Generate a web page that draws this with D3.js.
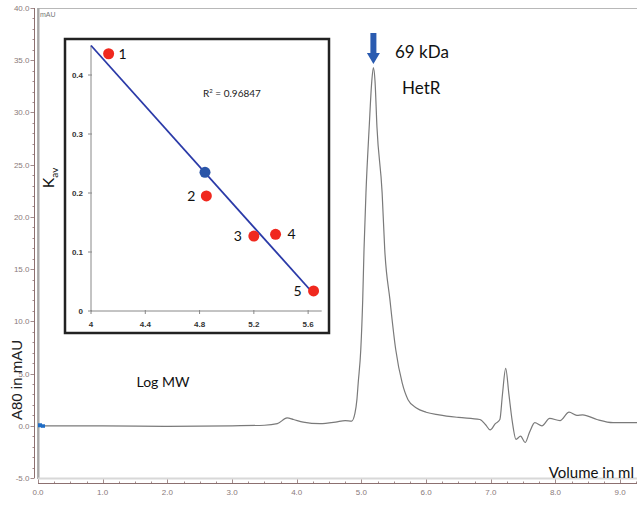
<!DOCTYPE html>
<html>
<head>
  <meta charset="utf-8">
  <script src="https://d3js.org/d3.v7.min.js"></script>
  <style>
    body { margin: 0; background: #fff; }
    svg { display: block; }
  </style>
</head>
<body>
<script>
  "use strict";

  /*
    Chromatogram trace (volume in ml, absorbance in mAU)
  */
  var traceVol = [0.0, 0.5, 1.0, 2.0, 3.0, 3.5, 3.7, 3.85, 3.95, 4.1, 4.36, 4.6, 4.75, 4.85,
    4.9, 4.93, 4.95, 4.99, 5.02, 5.04, 5.07, 5.12, 5.16, 5.185, 5.21, 5.24, 5.32, 5.36,
    5.44, 5.53, 5.63, 5.72, 5.85, 6.0, 6.2, 6.5, 6.83, 6.92, 6.99, 7.07, 7.14, 7.18, 7.23,
    7.28, 7.33, 7.39, 7.46, 7.53, 7.6, 7.68, 7.79, 7.91, 8.07, 8.21, 8.33, 8.42, 8.64, 8.89, 9.3];
  var traceAbs = [0.0, 0.0, 0.0, -0.05, 0.0, 0.05, 0.2, 0.75, 0.6, 0.35, 0.2, 0.35, 0.5, 0.45,
    1.2, 2.5, 4.1, 7.3, 12.1, 16.9, 22.3, 28.6, 33.0, 34.3, 33.0, 28.6, 22.3, 16.9,
    12.1, 7.3, 4.1, 2.5, 1.7, 1.3, 1.05, 0.8, 0.6, 0.1, -0.4, 0.2, 0.6, 3.0, 5.5,
    3.0, 0.5, -1.3, -1.0, -1.6, -0.6, 0.3, 0.0, 0.7, 0.5, 1.3, 1.0, 1.05, 0.6, 0.3, 0.3];
  var peakVol = 5.185;

  var yTicks = [-5, 0, 5, 10, 15, 20, 25, 30, 35, 40];
  var xTicks = [0, 1, 2, 3, 4, 5, 6, 7, 8, 9];

  /*
    Calibration inset (log MW vs Kav)
  */
  var stdLogMW = [4.13, 4.85, 5.20, 5.36, 5.64];
  var stdKav = [0.436, 0.195, 0.127, 0.130, 0.034];
  var stdNames = ["1", "2", "3", "4", "5"];
  var hetrLogMW = [4.84];
  var hetrKav = [0.235];
  var fitLogMW = [4.0, 5.645];
  var fitKav = [0.45, 0.028];
  var insetXTicks = [4, 4.4, 4.8, 5.2, 5.6];
  var insetYTicks = [0, 0.1, 0.2, 0.3, 0.4];

  var W = 637, H = 513;
  var svg = d3.select("body").append("svg").attr("width", W).attr("height", H);

  var x = d3.scaleLinear().domain([0, 9.26]).range([38, 637]);
  var y = d3.scaleLinear().domain([-5, 40]).range([478, 8]);

  var axisCol = "#8c7070";
  var font = "Lato, 'Open Sans', sans-serif";

  // plot frame
  svg.append("rect").attr("x", 37.5).attr("y", 8.5).attr("width", 610).attr("height", 470)
    .attr("fill", "none").attr("stroke", "#b8b8b8").attr("stroke-width", 1);
  svg.append("line").attr("x1", 38.5).attr("x2", 38.5).attr("y1", 8).attr("y2", 479)
    .attr("stroke", "#a8a8a8").attr("stroke-width", 2);
  svg.append("line").attr("x1", 38).attr("x2", 637).attr("y1", 478.5).attr("y2", 478.5)
    .attr("stroke", "#d8d8d8").attr("stroke-width", 2);

  // y axis
  var yAxisG = svg.append("g").attr("transform", "translate(34.5,0)");
  yAxisG.append("line").attr("y1", y(40)).attr("y2", y(-5)).attr("stroke", axisCol);
  yAxisG.selectAll(".minor").data(d3.range(-5, 40.5, 1)).enter().append("line")
    .attr("x1", 0).attr("x2", function(d) { return d % 5 === 0 ? -4 : -2; })
    .attr("y1", function(d) { return Math.round(y(d)) + 0.5; })
    .attr("y2", function(d) { return Math.round(y(d)) + 0.5; })
    .attr("stroke", axisCol).attr("stroke-width", 0.8);
  yAxisG.selectAll("text").data(yTicks).enter().append("text")
    .attr("x", -5).attr("y", function(d) { return y(d) + 3; })
    .attr("text-anchor", "end").attr("font-size", 8).attr("fill", "#8a7a7a")
    .attr("font-family", "'Liberation Sans', Arial, sans-serif")
    .text(function(d) { return d.toFixed(1); });

  // x axis
  var xAxisG = svg.append("g").attr("transform", "translate(0,483.5)");
  xAxisG.append("line").attr("x1", x(0)).attr("x2", 637).attr("stroke", axisCol);
  xAxisG.selectAll(".minor").data(d3.range(0, 9.26, 0.25)).enter().append("line")
    .attr("x1", function(d) { return Math.round(x(d)) + 0.5; })
    .attr("x2", function(d) { return Math.round(x(d)) + 0.5; })
    .attr("y1", 0).attr("y2", function(d) { return Math.abs(d - Math.round(d)) < 1e-6 ? -4 : -2; })
    .attr("stroke", axisCol).attr("stroke-width", 0.8);
  xAxisG.selectAll("text").data(xTicks).enter().append("text")
    .attr("x", function(d) { return x(d); }).attr("y", 11)
    .attr("text-anchor", "middle").attr("font-size", 8).attr("fill", "#8a7a7a")
    .attr("font-family", "'Liberation Sans', Arial, sans-serif")
    .text(function(d) { return d.toFixed(1); });

  svg.append("text").attr("x", 40).attr("y", 17).attr("font-size", 7).attr("fill", "#777")
    .attr("font-family", "'Liberation Sans', Arial, sans-serif").text("mAU");

  // trace
  var trace = traceVol.map(function(v, i) { return [v, traceAbs[i]]; });
  svg.append("path").datum(trace)
    .attr("fill", "none").attr("stroke", "#7a7a7a").attr("stroke-width", 1.2)
    .attr("d", d3.line().x(function(d) { return x(d[0]); }).y(function(d) { return y(d[1]); })
      .curve(d3.curveMonotoneX));

  // blue start marker
  svg.append("rect").attr("x", x(0)).attr("y", y(0) - 2.5).attr("width", 4).attr("height", 4).attr("fill", "#1f6cc4");
  svg.append("rect").attr("x", x(0) + 3).attr("y", y(0) - 1.5).attr("width", 4).attr("height", 3.5).attr("fill", "#1f6cc4");

  // arrow over the peak
  var ax = x(peakVol);
  svg.append("path")
    .attr("d", "M" + (ax - 3) + ",33 L" + (ax + 3) + ",33 L" + (ax + 3) + ",53 L" + (ax + 6.5) + ",53 L" + ax + ",64 L" + (ax - 6.5) + ",53 L" + (ax - 3) + ",53 Z")
    .attr("fill", "#2a5bb0");

  svg.append("text").attr("x", 395).attr("y", 58).attr("font-size", 17).attr("fill", "#111")
    .attr("font-family", font).text("69 kDa");
  svg.append("text").attr("x", 402).attr("y", 94).attr("font-size", 17).attr("fill", "#111")
    .attr("font-family", font).text("HetR");

  svg.append("text").attr("x", 634).attr("y", 478).attr("text-anchor", "end").attr("font-size", 15)
    .attr("fill", "#111").attr("font-family", font).text("Volume in ml");

  svg.append("text").attr("transform", "translate(22,380) rotate(-90)")
    .attr("text-anchor", "middle").attr("font-size", 15).attr("fill", "#222")
    .attr("font-family", "'Liberation Sans', Arial, sans-serif").text("A80 in mAU");

  /*
    Inset calibration chart
  */
  svg.append("rect").attr("x", 65).attr("y", 39).attr("width", 264).attr("height", 294)
    .attr("fill", "#fff").attr("stroke", "#222").attr("stroke-width", 2.5);

  var ix = d3.scaleLinear().domain([4, 5.7]).range([91, 321.7]);
  var iy = d3.scaleLinear().domain([0, 0.45]).range([311, 45.5]);
  var iCol = "#888";

  svg.append("line").attr("x1", ix(4)).attr("x2", ix(4)).attr("y1", iy(0)).attr("y2", iy(0.45))
    .attr("stroke", iCol);
  svg.append("line").attr("x1", ix(4)).attr("x2", ix(5.7)).attr("y1", iy(0)).attr("y2", iy(0))
    .attr("stroke", iCol);
  svg.selectAll(".iyt").data(insetYTicks).enter().append("line")
    .attr("x1", ix(4) - 3).attr("x2", ix(4) + 1)
    .attr("y1", function(d) { return iy(d); }).attr("y2", function(d) { return iy(d); })
    .attr("stroke", iCol);
  svg.selectAll(".iyl").data(insetYTicks).enter().append("text")
    .attr("x", 83).attr("y", function(d) { return iy(d) + 3; })
    .attr("text-anchor", "end").attr("font-size", 8).attr("font-weight", "bold").attr("fill", "#333")
    .attr("font-family", "'Liberation Sans', Arial, sans-serif")
    .text(function(d) { return d === 0 ? "0" : d.toFixed(1); });
  svg.selectAll(".ixt").data(insetXTicks).enter().append("line")
    .attr("x1", function(d) { return ix(d); }).attr("x2", function(d) { return ix(d); })
    .attr("y1", iy(0) - 1).attr("y2", iy(0) + 3)
    .attr("stroke", iCol);
  svg.selectAll(".ixl").data(insetXTicks).enter().append("text")
    .attr("x", function(d) { return ix(d); }).attr("y", iy(0) + 16)
    .attr("text-anchor", "middle").attr("font-size", 8).attr("font-weight", "bold").attr("fill", "#333")
    .attr("font-family", "'Liberation Sans', Arial, sans-serif")
    .text(function(d) { return String(d); });

  // fit line
  svg.append("line")
    .attr("x1", ix(fitLogMW[0])).attr("y1", iy(fitKav[0]))
    .attr("x2", ix(fitLogMW[1])).attr("y2", iy(fitKav[1]))
    .attr("stroke", "#2b3aa8").attr("stroke-width", 1.8);

  // standards
  svg.selectAll(".std").data(stdLogMW).enter().append("circle")
    .attr("cx", function(d) { return ix(d); })
    .attr("cy", function(d, i) { return iy(stdKav[i]); })
    .attr("r", 5.5).attr("fill", "#f0281e");
  svg.selectAll(".hetr").data(hetrLogMW).enter().append("circle")
    .attr("cx", function(d) { return ix(d); })
    .attr("cy", function(d, i) { return iy(hetrKav[i]); })
    .attr("r", 5.5).attr("fill", "#2a55a8");

  var labelDx = [14, -15, -16, 16, -16];
  svg.selectAll(".stdl").data(stdLogMW).enter().append("text")
    .attr("x", function(d, i) { return ix(d) + labelDx[i]; })
    .attr("y", function(d, i) { return iy(stdKav[i]) + 5; })
    .attr("text-anchor", "middle").attr("font-size", 14).attr("fill", "#111")
    .attr("font-family", font)
    .text(function(d, i) { return stdNames[i]; });

  svg.append("text").attr("x", 203).attr("y", 97).attr("font-size", 10).attr("fill", "#222")
    .attr("font-family", font).html("R<tspan dy='-4' font-size='6'>2</tspan><tspan dy='4'> = 0.96847</tspan>");

  svg.append("text").attr("transform", "translate(54,178) rotate(-90)")
    .attr("text-anchor", "middle").attr("font-size", 16).attr("fill", "#111")
    .attr("font-family", font)
    .html("K<tspan dy='4' font-size='10'>av</tspan>");

  svg.append("text").attr("x", 163).attr("y", 387).attr("text-anchor", "middle")
    .attr("font-size", 14).attr("fill", "#111").attr("font-family", font).text("Log MW");
</script>
</body>
</html>
